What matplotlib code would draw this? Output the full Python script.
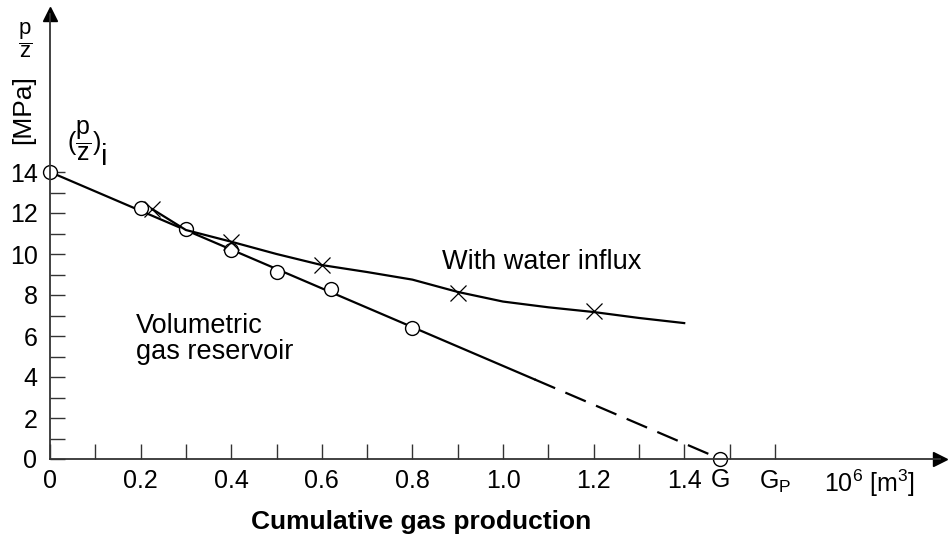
import numpy as np
import matplotlib.pyplot as plt

# p/z readings, volumetric reservoir (circles), 10^6 m^3 vs MPa
vol_x = [0.0, 0.2, 0.3, 0.4, 0.5, 0.62, 0.8, 1.48]
vol_y = [14.0, 12.25, 11.2, 10.2, 9.1, 8.3, 6.4, 0.0]
# straight-line fit, solid part then extrapolation to G
fit_solid_x = [0.0, 1.07]
fit_solid_y = [14.0, 3.88]
fit_dash_x = [1.07, 1.48]
fit_dash_y = [3.88, 0.0]

# reservoir with water influx (crosses)
wi_x = [0.225, 0.4, 0.6, 0.9, 1.2]
wi_y = [12.2, 10.6, 9.45, 8.1, 7.2]
wi_curve_x = [0.225, 0.30, 0.40, 0.50, 0.60, 0.70, 0.80, 0.85, 0.90, 1.00, 1.10, 1.20, 1.30, 1.40]
wi_curve_y = [12.2, 11.17, 10.6, 10.0, 9.46, 9.12, 8.75, 8.45, 8.15, 7.68, 7.4, 7.17, 6.88, 6.63]

xtick_pos = np.round(np.arange(0.0, 1.65, 0.1), 1)
xtick_lab = ['0', '', '0.2', '', '0.4', '', '0.6', '', '0.8', '', '1.0', '', '1.2', '', '1.4', '', r'G$_\mathregular{P}$']
ytick_pos = np.arange(0, 15)
ytick_lab = [str(v) if v % 2 == 0 else '' for v in ytick_pos]

plt.rcParams.update({
    'font.family': ['Liberation Sans', 'DejaVu Sans'],
    'mathtext.fontset': 'custom',
    'mathtext.rm': 'Liberation Sans',
    'mathtext.it': 'Liberation Sans',
    'font.size': 18,
})

fig = plt.figure(figsize=(9.5, 5.42), dpi=100)
ax = fig.add_axes([50/950, 83/542, 890/950, 445/542])
ax.set_xlim(0, 890/453)
ax.set_ylim(0, 445/20.5)

axc = '#333333'
for s in ['top', 'right']:
    ax.spines[s].set_visible(False)
for s in ['left', 'bottom']:
    ax.spines[s].set_color(axc)
    ax.spines[s].set_linewidth(1.3)
ax.plot(1, 0, '>', color='k', ms=10, transform=ax.transAxes, clip_on=False)
ax.plot(0, 1, '^', color='k', ms=10, transform=ax.transAxes, clip_on=False)

ax.set_xticks(xtick_pos)
ax.set_xticklabels(xtick_lab)
ax.set_yticks(ytick_pos)
ax.set_yticklabels(ytick_lab)
ax.tick_params(axis='x', direction='in', length=11, width=1, color=axc, pad=7, labelsize=18)
ax.tick_params(axis='y', direction='in', length=11, width=1, color=axc, pad=9, labelsize=18)
ax.text(1.48, -0.42, 'G', ha='center', va='top', fontsize=18)
ax.text(1.81, -0.42, r'10$^\mathregular{6}$ [m$^\mathregular{3}$]', ha='center', va='top', fontsize=18)

# fitted line and extrapolation
ax.plot(fit_solid_x, fit_solid_y, color='k', lw=1.6)
ax.plot(fit_dash_x, fit_dash_y, color='k', lw=1.6, dashes=(10, 5))
ax.plot(vol_x, vol_y, 'o', ms=10, mfc='white', mec='k', mew=1, clip_on=False)

# water influx curve
ax.plot(wi_curve_x, wi_curve_y, color='k', lw=1.6)
ax.plot(wi_x, wi_y, 'x', ms=11, color='k', mew=0.9)

ax.text(0.19, 5.85, 'Volumetric\ngas reservoir', ha='left', va='center', fontsize=19.5, linespacing=1.0)
ax.text(0.865, 9.6, 'With water influx', ha='left', va='center', fontsize=19.5)
# initial p/z marker: (p/z) with a full-size lowered "i"
ax.text(0.075, 15.55, r'$(\dfrac{p}{z})$', ha='center', va='center', fontsize=18)
ax.text(0.12, 14.75, 'i', ha='center', va='center', fontsize=21)

fig.text(23/950, 1 - 110/542, '[MPa]', rotation=90, ha='center', va='center', fontsize=19)
fig.text(25/950, 1 - 40/542, r'$\dfrac{p}{z}$', ha='center', va='center', fontsize=16)
fig.text(421/950, 1 - 522/542, 'Cumulative gas production', ha='center', va='center',
         fontsize=19, fontweight='bold')

fig.savefig('out.png', dpi=100)
